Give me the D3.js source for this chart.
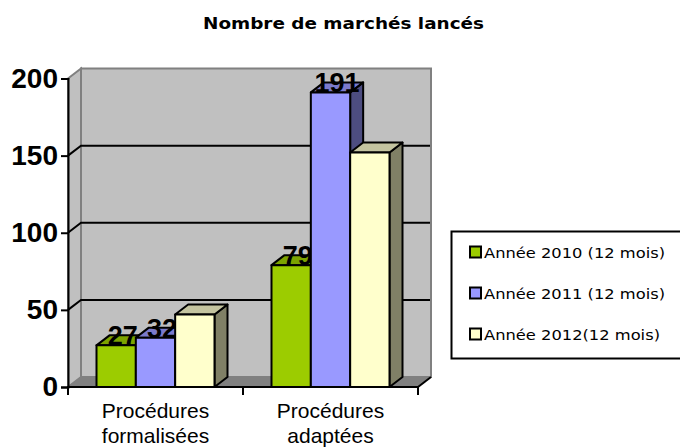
<!DOCTYPE html>
<html><head><meta charset="utf-8">
<script src="https://cdn.jsdelivr.net/npm/d3@7"></script>
<style>html,body{margin:0;padding:0;background:#fff;overflow:hidden}svg{display:block}</style>
</head><body><svg id="c" width="680" height="447"></svg>
<script>
const categories = ["Procédures formalisées", "Procédures adaptées"];
const categoryLines = [["Procédures", "formalisées"], ["Procédures", "adaptées"]];
const seriesNames = ["Année 2010 (12 mois)", "Année 2011 (12 mois)", "Année 2012(12 mois)"];
const values2010 = [27, 79];
const values2011 = [32, 191];
const values2012 = [47, 152];
const valueLabels2010 = ["27", "79"];
const valueLabels2011 = ["32", "191"];
const valueLabels2012 = ["", ""];
const yTicks = [0, 50, 100, 150, 200];
const frontColors = ["#9ccc00", "#9999ff", "#ffffcc"];
const topColors = ["#7ca300", "#7a7acc", "#c4c4a0"];
const sideColors = ["#5e7a00", "#4d4d80", "#808066"];
const legendTextWidths = [181, 181, 176];

const svg = d3.select("#c");
const dx = 13, dy = -10;
const y = d3.scaleLinear().domain([0, 200]).range([387, 78.5]);
const x0 = d3.scaleBand().domain(categories).range([68, 418]);
const groupPad = 28.5;
const x1 = d3.scaleBand().domain(d3.range(3)).range([0, x0.bandwidth() - 2 * groupPad]);
const L = 68, R = 418, B = y(0), T = y(200);
const poly = pts => pts.map(p => p.join(",")).join(" ");

svg.append("polygon").attr("points", poly([[L+dx,T+dy],[R+dx,T+dy],[R+dx,B+dy],[L+dx,B+dy]])).attr("fill","#c0c0c0").attr("stroke","#808080").attr("stroke-width",2);
svg.append("polygon").attr("points", poly([[L,T],[L+dx,T+dy],[L+dx,B+dy],[L,B]])).attr("fill","#c0c0c0").attr("stroke","#808080").attr("stroke-width",2);
svg.append("polygon").attr("points", poly([[L,B],[L+dx,B+dy],[R+dx,B+dy],[R,B]])).attr("fill","#808080").attr("stroke","#808080").attr("stroke-width",1);

yTicks.filter(t => t > 0 && t < 200).forEach(t => {
  svg.append("path").attr("d", `M${L},${y(t)}L${L+dx},${y(t)+dy}L${R+dx-1},${y(t)+dy}`).attr("fill","none").attr("stroke","#000").attr("stroke-width",2);
});
svg.append("line").attr("x1",R).attr("y1",B).attr("x2",R+dx).attr("y2",B+dy).attr("stroke","#000").attr("stroke-width",2);

const yAxis = d3.axisLeft(y).tickValues(yTicks).tickSize(7).tickPadding(3);
const yg = svg.append("g").attr("transform",`translate(${L},0)`).call(yAxis);
yg.select(".domain").attr("stroke","#000").attr("stroke-width",2);
yg.selectAll(".tick line").attr("stroke","#000").attr("stroke-width",2);
yg.selectAll("text").attr("font-family","'Liberation Sans'").attr("font-weight","bold").attr("font-size",28).attr("fill","#000");

const xTickPos = [L, x0(categories[1]), R];
svg.append("line").attr("x1",L-1).attr("x2",R+1).attr("y1",B).attr("y2",B).attr("stroke","#000").attr("stroke-width",2);
xTickPos.forEach(p => svg.append("line").attr("x1",p).attr("x2",p).attr("y1",B).attr("y2",B+8).attr("stroke","#000").attr("stroke-width",2));
categories.forEach((c,i) => {
  const t = svg.append("text").attr("text-anchor","middle").attr("font-family","'Liberation Sans'").attr("font-size",21).attr("fill","#000");
  categoryLines[i].forEach((ln,j) => t.append("tspan").attr("x",x0(c)+x0.bandwidth()/2).attr("y",418+j*25).text(ln));
});

const allValues = [values2010, values2011, values2012];
const allLabels = [valueLabels2010, valueLabels2011, valueLabels2012];
categories.forEach((c,ci) => {
  allValues.forEach((vals,si) => {
    const xa = x0(c)+groupPad+x1(si), w = x1.bandwidth(), top = y(vals[ci]);
    const g = svg.append("g").attr("stroke","#000").attr("stroke-width",2).attr("stroke-linejoin","round");
    g.append("polygon").attr("points",poly([[xa+w,top],[xa+w+dx,top+dy],[xa+w+dx,B+dy],[xa+w,B]])).attr("fill",sideColors[si]);
    g.append("polygon").attr("points",poly([[xa,top],[xa+dx,top+dy],[xa+w+dx,top+dy],[xa+w,top]])).attr("fill",topColors[si]);
    g.append("rect").attr("x",xa).attr("y",top).attr("width",w).attr("height",B-top).attr("fill",frontColors[si]);
    svg.append("text").attr("x",xa+w/2+dx/2).attr("y",top).attr("text-anchor","middle")
      .attr("font-family","'Liberation Sans'").attr("font-weight","bold").attr("font-size",27).attr("fill","#000").text(allLabels[si][ci]);
  });
});

svg.append("text").attr("x",203).attr("y",29).attr("font-family","'DejaVu Sans'").attr("font-weight","bold").attr("font-size",15.5).attr("textLength",281).attr("lengthAdjust","spacingAndGlyphs").attr("fill","#000").text("Nombre de marchés lancés");

svg.append("rect").attr("x",451.5).attr("y",231.5).attr("width",240).attr("height",127).attr("fill","#fff").attr("stroke","#000").attr("stroke-width",2);
seriesNames.forEach((s,i) => {
  const cy = 252 + i*41;
  svg.append("rect").attr("x",470).attr("y",cy-5.5).attr("width",11).attr("height",11).attr("fill",frontColors[i]).attr("stroke","#000").attr("stroke-width",2);
  svg.append("text").attr("x",484).attr("y",cy+6).attr("font-family","'DejaVu Sans'").attr("font-size",14.5).attr("textLength",legendTextWidths[i]).attr("lengthAdjust","spacingAndGlyphs").attr("fill","#000").text(s);
});
</script></body></html>
